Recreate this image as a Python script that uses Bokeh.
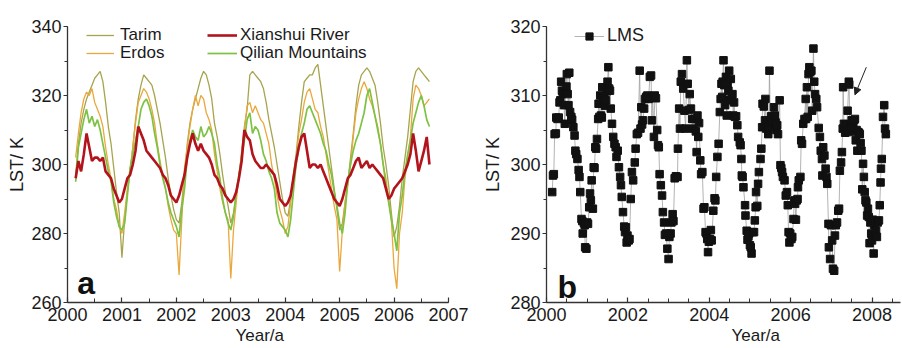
from bokeh.plotting import figure
from bokeh.models import (Legend, LegendItem, Label, Arrow, NormalHead, Title,
                          SingleIntervalTicker, Range1d)
from bokeh.layouts import row
from bokeh.embed import file_html
from bokeh.resources import INLINE

FONT = "Liberation Sans"

# ---------------- panel a data (16-day composites from 2000.15) ----------------
T_START = 2000.15
T_STEP = 0.05

TARIM = [297, 306, 312, 316, 319, 321, 323, 325, 326, 327, 324, 318, 311, 306, 299, 292, 286, 273, 284, 292,
         298, 305, 313, 319, 323, 326, 325, 324, 323, 320, 316, 312, 307, 302, 296, 291, 287, 284, 283, 289,
         297, 306, 312, 316, 319, 322, 325, 327, 326, 323, 319, 312, 308, 303, 297, 292, 288, 283, 286, 291,
         296, 304, 311, 316, 326, 327, 326, 325, 324, 322, 318, 313, 309, 305, 300, 295, 290, 286, 285, 290,
         297, 303, 311, 318, 324, 325, 326, 326, 328, 329, 323, 317, 311, 305, 299, 293, 287, 281, 283, 289,
         295, 302, 309, 317, 323, 326, 327, 328, 327, 325, 323, 318, 312, 305, 300, 294, 286, 279, 282, 288,
         296, 302, 308, 316, 324, 327, 328, 327, 326, 325, 324]

ERDOS = [302, 309, 315, 319, 321, 320, 322, 318, 316, 314, 311, 305, 300, 296, 290, 287, 282, 280, 286, 293,
         298, 305, 312, 318, 320, 322, 321, 319, 316, 312, 306, 301, 297, 293, 288, 284, 281, 280, 268, 284,
         299, 305, 311, 316, 320, 317, 320, 319, 315, 313, 310, 303, 298, 293, 289, 286, 284, 267, 281, 289,
         297, 303, 310, 317, 318, 315, 317, 315, 313, 312, 309, 306, 300, 296, 291, 287, 284, 280, 282, 289,
         296, 301, 309, 313, 318, 321, 322, 319, 316, 315, 311, 308, 303, 298, 293, 288, 284, 269, 281, 289,
         294, 300, 308, 315, 319, 322, 324, 322, 319, 317, 314, 311, 306, 300, 296, 290, 284, 270, 264, 280,
         286, 296, 302, 308, 319, 323, 322, 320, 317, 318, 319]

QILIAN = [295, 305, 309, 313, 316, 312, 314, 311, 313, 310, 306, 302, 298, 295, 289, 285, 282, 281, 283, 291,
          299, 303, 307, 311, 316, 318, 319, 317, 314, 309, 305, 300, 296, 293, 289, 286, 284, 282, 279, 287,
          293, 302, 307, 310, 308, 307, 311, 308, 309, 311, 309, 306, 300, 296, 290, 286, 283, 281, 285, 292,
          297, 302, 307, 313, 315, 309, 311, 310, 307, 303, 301, 298, 296, 293, 286, 283, 282, 281, 279, 284,
          292, 300, 305, 309, 312, 316, 317, 315, 313, 311, 309, 306, 304, 300, 297, 292, 288, 283, 280, 286,
          295, 300, 304, 307, 309, 312, 315, 320, 322, 318, 314, 310, 306, 300, 294, 289, 284, 280, 275, 286,
          291, 298, 303, 307, 312, 315, 318, 320, 317, 313, 311]

XIANSHUI = [296, 301, 298, 303, 309, 305, 301, 302, 302, 301, 302, 298, 297, 296, 293, 291, 289, 290, 293, 296,
            297, 300, 304, 311, 309, 307, 304, 303, 302, 301, 300, 299, 297, 296, 294, 291, 290, 289, 291, 294,
            297, 302, 306, 309, 306, 304, 306, 304, 303, 302, 300, 297, 296, 294, 293, 291, 290, 289, 290, 292,
            296, 301, 310, 308, 307, 303, 301, 300, 299, 299, 300, 299, 298, 297, 294, 290, 289, 288, 289, 291,
            296, 301, 305, 308, 309, 304, 299, 300, 300, 299, 300, 298, 296, 294, 292, 290, 289, 288, 290, 293,
            296, 297, 299, 301, 302, 299, 300, 301, 299, 300, 299, 298, 297, 296, 293, 290, 291, 293, 294, 295,
            296, 298, 300, 303, 309, 304, 298, 301, 304, 308, 300]

T_LEFT = [round(T_START + T_STEP * i, 3) for i in range(len(TARIM))]

# ---------------- panel b data (LMS) ----------------
LMS_T = [
    2000.14, 2000.16, 2000.18, 2000.20, 2000.23, 2000.24, 2000.27, 2000.30, 2000.32, 2000.34,
    2000.36, 2000.38, 2000.40, 2000.43, 2000.45, 2000.47, 2000.49, 2000.50, 2000.52, 2000.54,
    2000.56, 2000.58, 2000.61, 2000.63, 2000.66, 2000.69, 2000.71, 2000.73, 2000.76, 2000.79,
    2000.81, 2000.83, 2000.86, 2000.88, 2000.89, 2000.92, 2000.94, 2000.95, 2000.98, 2001.00,
    2001.02,
    2001.05, 2001.07, 2001.09, 2001.11, 2001.14, 2001.16, 2001.18, 2001.20, 2001.22, 2001.24,
    2001.27, 2001.28, 2001.30, 2001.32, 2001.34, 2001.36, 2001.37, 2001.39, 2001.42, 2001.44,
    2001.46, 2001.48, 2001.50, 2001.52, 2001.54, 2001.56, 2001.58, 2001.61, 2001.64, 2001.67,
    2001.70, 2001.72, 2001.75, 2001.78, 2001.81, 2001.83, 2001.85, 2001.88, 2001.91, 2001.93,
    2001.95, 2001.97, 2001.99, 2002.02, 2002.04,
    2002.07, 2002.10, 2002.13, 2002.17, 2002.19, 2002.22, 2002.25, 2002.29, 2002.31, 2002.33,
    2002.35, 2002.37, 2002.40, 2002.42, 2002.45, 2002.48, 2002.51, 2002.54, 2002.57, 2002.59,
    2002.61, 2002.64, 2002.66, 2002.69, 2002.72, 2002.74, 2002.76, 2002.78, 2002.81, 2002.84,
    2002.86, 2002.89, 2002.91, 2002.94, 2002.97, 2003.00, 2003.02, 2003.05, 2003.07, 2003.10,
    2003.12,
    2003.15, 2003.18, 2003.22, 2003.23, 2003.26, 2003.28, 2003.30, 2003.33, 2003.36, 2003.39,
    2003.42, 2003.45, 2003.47, 2003.50, 2003.52, 2003.55, 2003.58, 2003.61, 2003.64, 2003.67,
    2003.69, 2003.71, 2003.73, 2003.75, 2003.78, 2003.80, 2003.83, 2003.86, 2003.88, 2003.91,
    2003.93, 2003.95, 2003.97, 2003.99, 2004.02, 2004.04, 2004.06, 2004.10, 2004.13, 2004.15,
    2004.17, 2004.20, 2004.23, 2004.26, 2004.28,
    2004.30, 2004.32, 2004.33, 2004.35, 2004.37, 2004.39, 2004.41, 2004.43, 2004.45, 2004.47,
    2004.49, 2004.50, 2004.53, 2004.55, 2004.57, 2004.59, 2004.61, 2004.63, 2004.66, 2004.69,
    2004.71, 2004.75, 2004.77, 2004.79, 2004.80, 2004.82, 2004.84, 2004.88, 2004.89, 2004.92,
    2004.94, 2004.96, 2004.98, 2005.00, 2005.02, 2005.04, 2005.07, 2005.10, 2005.12, 2005.14,
    2005.15, 2005.18, 2005.20, 2005.22, 2005.26, 2005.28,
    2005.30, 2005.31, 2005.34, 2005.37, 2005.38, 2005.40, 2005.43, 2005.45, 2005.46, 2005.48,
    2005.50, 2005.52, 2005.54, 2005.57, 2005.59, 2005.61, 2005.63, 2005.65, 2005.67, 2005.69,
    2005.73, 2005.75, 2005.77, 2005.79, 2005.81, 2005.85, 2005.88, 2005.91, 2005.93, 2005.95,
    2005.97, 2005.99, 2006.02, 2006.04, 2006.07, 2006.09, 2006.11, 2006.13, 2006.15, 2006.17,
    2006.18, 2006.20, 2006.24,
    2006.26, 2006.28, 2006.31, 2006.34, 2006.37, 2006.38, 2006.40, 2006.42, 2006.44, 2006.46,
    2006.48, 2006.51, 2006.53, 2006.56, 2006.58, 2006.60, 2006.63, 2006.65, 2006.69, 2006.72,
    2006.74, 2006.77, 2006.78, 2006.80, 2006.83, 2006.86, 2006.88, 2006.90, 2006.93, 2006.94,
    2006.97, 2006.99, 2007.02, 2007.04, 2007.07, 2007.09, 2007.11, 2007.14, 2007.17, 2007.19,
    2007.21, 2007.24, 2007.26,
    2007.28, 2007.29, 2007.31, 2007.34, 2007.37, 2007.40, 2007.43, 2007.44, 2007.45, 2007.47,
    2007.50, 2007.52, 2007.54, 2007.56, 2007.58, 2007.60, 2007.62, 2007.64, 2007.66, 2007.68,
    2007.70, 2007.72, 2007.74, 2007.76, 2007.78, 2007.80, 2007.82, 2007.84, 2007.86, 2007.88,
    2007.90, 2007.92, 2007.94, 2007.96, 2007.98, 2008.00, 2008.02, 2008.04, 2008.06, 2008.08,
    2008.10, 2008.12, 2008.14, 2008.17, 2008.19, 2008.21, 2008.22, 2008.24, 2008.27, 2008.30,
    2008.32, 2008.34,
]

LMS_LST = [
    296.0, 298.4, 298.6, 304.4, 304.5, 306.8, 306.6, 306.8, 309.0, 309.3,
    312.0, 310.7, 310.3, 308.6, 305.9, 310.5, 311.3, 313.1, 310.2, 308.6,
    313.3, 307.6, 306.9, 306.5, 305.4, 304.2, 302.0, 301.5, 300.8, 299.2,
    298.2, 296.0, 292.1, 291.8, 290.0, 291.5, 291.2, 288.0, 287.8, 291.6,
    291.4,
    293.8, 295.8, 294.8, 297.7, 293.6, 299.6, 299.5, 302.5, 302.3, 303.7,
    306.6, 308.8, 306.9, 310.0, 307.1, 306.8, 311.2, 309.9, 309.8, 308.5,
    309.3, 310.6, 312.0, 314.1, 311.0, 310.7, 308.1, 305.9, 304.0, 303.0,
    302.5, 301.1, 302.0, 299.6, 298.2, 297.0, 295.3, 293.1, 291.0, 290.2,
    290.9, 288.7, 289.7, 289.0, 289.2,
    295.0, 298.9, 297.7, 300.3, 302.3, 304.4, 304.6, 313.6, 305.2, 308.3,
    305.8, 306.4, 308.1, 309.5, 309.8, 310.0, 309.5, 312.7, 312.9, 306.4,
    309.8, 304.0, 310.0, 309.6, 305.0, 302.8, 302.5, 298.6, 297.0, 295.5,
    293.1, 291.6, 289.8, 290.0, 287.8, 286.3, 289.5, 290.0, 291.6, 292.8,
    291.8,
    298.0, 298.3, 298.2, 302.3, 308.1, 305.2, 312.0, 313.1, 311.0, 307.8,
    305.2, 315.1, 311.7, 307.9, 310.2, 308.1, 306.6, 305.2, 306.6, 304.8,
    301.8, 307.1, 304.0, 306.0, 300.6, 298.6, 298.9, 293.6, 293.8, 290.2,
    290.0, 289.2, 287.3, 288.8, 289.2, 290.5, 289.0, 293.3, 295.1, 294.8,
    298.2, 301.1, 303.0, 307.6, 309.5,
    311.7, 309.8, 312.0, 315.1, 311.5, 308.6, 312.7, 307.1, 311.7, 310.7,
    313.6, 309.3, 312.4, 310.0, 310.2, 307.1, 309.0, 306.9, 307.0, 305.7,
    304.0, 303.2, 302.8, 300.8, 298.4, 298.2, 296.7, 294.1, 292.6, 290.4,
    289.1, 289.6, 290.0, 288.3, 288.0, 287.1, 290.2, 290.2, 291.9, 293.8,
    296.0, 294.0, 297.2, 298.9, 300.8, 302.3,
    305.4, 308.8, 308.4, 306.4, 309.5, 305.2, 305.8, 304.4, 305.4, 313.6,
    306.4, 307.0, 306.9, 306.2, 308.3, 307.1, 306.1, 305.0, 305.7, 304.4,
    309.3, 299.9, 299.5, 298.9, 298.2, 297.7, 295.5, 296.0, 294.1, 290.2,
    288.7, 290.0, 289.2, 289.5, 292.1, 294.8, 294.3, 292.0, 294.8, 295.0,
    296.7, 297.7, 298.2,
    303.5, 303.0, 305.9, 306.6, 309.5, 306.6, 311.2, 306.9, 313.1, 314.1,
    313.4, 313.6, 307.8, 316.8, 312.0, 310.2, 309.5, 308.3, 305.3, 304.0,
    302.0, 300.8, 298.4, 302.5, 301.3, 299.4, 298.2, 297.2, 291.4, 288.0,
    286.3, 291.2, 289.0, 284.9, 284.6, 289.7, 291.2, 291.6, 293.3, 293.6,
    299.1, 300.3, 301.8,
    305.2, 311.2, 305.9, 304.6, 305.0, 307.8, 312.0, 311.6, 304.7, 305.7,
    306.4, 306.2, 305.2, 306.4, 306.6, 303.5, 305.0, 302.0, 304.7, 304.6,
    304.4, 303.1, 302.0, 296.4, 300.1, 298.2, 296.0, 294.8, 294.5, 292.6,
    293.6, 292.4, 288.6, 291.6, 290.0, 289.0, 292.0, 287.1, 291.2, 289.6,
    290.4, 289.5, 291.6, 291.9, 294.1, 297.4, 299.4, 300.8, 306.9, 308.6,
    305.2, 304.4,
]

ARROW_FROM = (2007.86, 314.1)
ARROW_TO = (2007.58, 310.1)

C_TARIM = "#a6a44c"
C_ERDOS = "#eaa83c"
C_QILIAN = "#7dc243"
C_XIAN = "#b3141c"
AX = "#333333"
TXT = "#1a1a1a"


def style(p, xtick_major, xtick_minor, ytick_major, ytick_minor, ylabel, ylab_standoff,
          xlabel_offset):
    p.xgrid.visible = False
    p.ygrid.visible = False
    p.outline_line_color = None
    p.background_fill_color = "white"
    p.border_fill_color = "white"
    xa = p.xaxis[0]
    ya = p.yaxis[0]
    xa.ticker = SingleIntervalTicker(interval=xtick_major, num_minor_ticks=xtick_minor)
    ya.ticker = SingleIntervalTicker(interval=ytick_major, num_minor_ticks=ytick_minor)
    for ax in (xa, ya):
        ax.axis_line_color = AX
        ax.axis_line_width = 1.3
        ax.major_tick_line_color = AX
        ax.minor_tick_line_color = AX
        ax.major_tick_line_width = 1.2
        ax.minor_tick_line_width = 1.0
        ax.major_label_text_font = FONT
        ax.major_label_text_font_size = "18px"
        ax.major_label_text_color = TXT
    xa.major_tick_in = 5
    xa.major_tick_out = 0
    xa.minor_tick_in = 4
    xa.minor_tick_out = 0
    xa.major_label_standoff = 5
    ya.major_tick_in = 0
    ya.major_tick_out = 4
    ya.minor_tick_in = 0
    ya.minor_tick_out = 3
    ya.major_label_standoff = 2
    ya.axis_label = ylabel
    ya.axis_label_text_font = FONT
    ya.axis_label_text_font_size = "18px"
    ya.axis_label_text_font_style = "normal"
    ya.axis_label_text_color = TXT
    ya.axis_label_standoff = ylab_standoff
    p.add_layout(Title(text="Year/a", align="left", offset=xlabel_offset, standoff=1,
                       text_font=FONT, text_font_size="17px", text_font_style="normal",
                       text_color=TXT), "below")


def legend(label, renderers, loc, glyph_w, standoff, size="17px"):
    # one legend per entry, so that every row can be placed where the reference has it
    lg = Legend(items=[LegendItem(label=label, renderers=renderers)], location=loc,
                orientation="vertical",
                glyph_width=glyph_w, glyph_height=18, label_height=18,
                label_standoff=standoff, spacing=0, padding=0, margin=0,
                border_line_color=None, background_fill_alpha=0,
                label_text_font=FONT, label_text_font_size=size,
                label_text_color=TXT)
    return lg


# ---------------- panel a ----------------
p1 = figure(width=480, height=348, x_range=Range1d(2000, 2007), y_range=Range1d(260, 340),
            output_backend="svg", toolbar_location=None,
            min_border_left=67, min_border_right=32, min_border_top=23, min_border_bottom=46)
style(p1, 1, 2, 20, 2, "LST/ K", 1, 168)

r_t = p1.line(T_LEFT, TARIM, line_color=C_TARIM, line_width=1.3)
r_e = p1.line(T_LEFT, ERDOS, line_color=C_ERDOS, line_width=1.3)
r_q = p1.line(T_LEFT, QILIAN, line_color=C_QILIAN, line_width=1.7)
r_x = p1.line(T_LEFT, XIANSHUI, line_color=C_XIAN, line_width=2.6)
m_t = p1.scatter([], [], marker="circle", size=3, color="#7d7c2a")
m_e = p1.scatter([], [], marker="circle", size=3, color="#d08a20")
m_q = p1.scatter([], [], marker="circle", size=3, color="#5ea42a")

p1.add_layout(legend("Tarim", [r_t, m_t], (19, 257), 28, 6))
p1.add_layout(legend("Erdos", [r_e, m_e], (19, 239), 28, 6))
p1.add_layout(legend("Xianshui River", [r_x], (140, 257), 30, 3))
p1.add_layout(legend("Qilian Mountains", [r_q, m_q], (140, 239), 30, 3))

p1.add_layout(Label(x=2000.18, y=265.7, text="a", text_font=FONT, text_font_size="32px",
                    text_font_style="bold", text_color="#111111", text_baseline="alphabetic"))

# ---------------- panel b ----------------
p2 = figure(width=422, height=348, x_range=Range1d(2000, 2008.70), y_range=Range1d(280, 320),
            output_backend="svg", toolbar_location=None,
            min_border_left=62, min_border_right=2, min_border_top=26, min_border_bottom=46)
style(p2, 2, 4, 10, 2, "LST/ K", 4, 185)

r_l = p2.line(LMS_T, LMS_LST, line_color="#a0a0a0", line_width=0.8)
r_s = p2.scatter(LMS_T, LMS_LST, marker="square", size=7.5, color="#111111")

p2.add_layout(legend("LMS", [r_l, r_s], (28, 256), 30, 3, "18px"))

p2.add_layout(Arrow(end=NormalHead(size=7, line_color="#222222", fill_color="#222222", line_width=1),
                    x_start=ARROW_FROM[0], y_start=ARROW_FROM[1],
                    x_end=ARROW_TO[0], y_end=ARROW_TO[1],
                    line_color="#222222", line_width=1))

p2.add_layout(Label(x=2000.27, y=282.2, text="b", text_font=FONT, text_font_size="32px",
                    text_font_style="bold", text_color="#111111", text_baseline="alphabetic"))

layout = row(p1, p2)
open("out.html", "w").write(file_html(layout, INLINE))
